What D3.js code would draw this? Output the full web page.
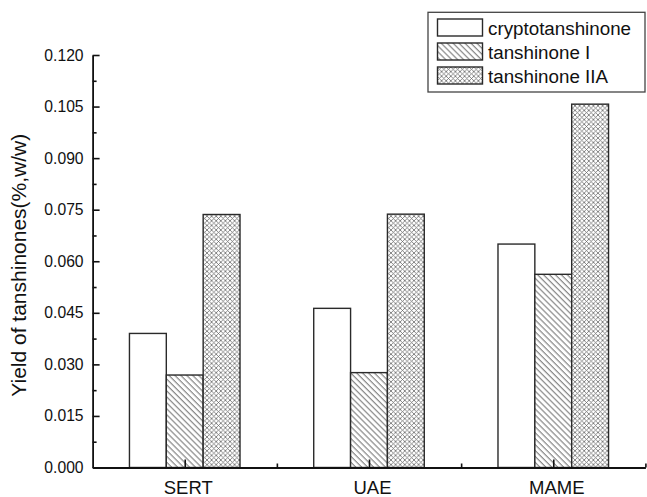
<!DOCTYPE html>
<html>
<head>
<meta charset="utf-8">
<script src="https://cdn.jsdelivr.net/npm/d3@7"></script>
<style>
  html, body { margin: 0; padding: 0; background: #fff; }
  svg { display: block; font-family: "Liberation Sans", Arial, Helvetica, sans-serif; }
</style>
</head>
<body>
<svg id="chart" width="647" height="497"></svg>
<script>
// ---- data ----
const categories = ["SERT", "UAE", "MAME"];
const seriesNames = ["cryptotanshinone", "tanshinone I", "tanshinone IIA"];
const cryptotanshinone = [0.0390, 0.0463, 0.0650];
const tanshinoneI = [0.0269, 0.0276, 0.0562];
const tanshinoneIIA = [0.0736, 0.0737, 0.1057];
const yTickValues = [0, 0.015, 0.030, 0.045, 0.060, 0.075, 0.090, 0.105, 0.120];
const yMinorTicks = [0.0075, 0.0225, 0.0375, 0.0525, 0.0675, 0.0825, 0.0975, 0.1125];
const yLabel = "Yield of tanshinones(%,w/w)";

const seriesValues = [cryptotanshinone, tanshinoneI, tanshinoneIIA];
const fills = ["#ffffff", "url(#hatch)", "url(#cross)"];

const svg = d3.select("#chart");

// ---- patterns ----
const defs = svg.append("defs");
const hatch = defs.append("pattern")
  .attr("id", "hatch").attr("patternUnits", "userSpaceOnUse")
  .attr("width", 4.2).attr("height", 4.2)
  .attr("patternTransform", "rotate(-45)");
hatch.append("rect").attr("width", 4.2).attr("height", 4.2).attr("fill", "#fff");
hatch.append("line").attr("x1", 1).attr("y1", 0).attr("x2", 1).attr("y2", 4.2)
  .attr("stroke", "#5e5e5e").attr("stroke-width", 0.9);

const cw = 4.6;
const cross = defs.append("pattern")
  .attr("id", "cross").attr("patternUnits", "userSpaceOnUse")
  .attr("width", cw).attr("height", cw);
cross.append("rect").attr("width", cw).attr("height", cw).attr("fill", "#fff");
cross.append("path")
  .attr("d", `M0,0L${cw},${cw}M${cw},0L0,${cw}M-1,${cw-1}L1,${cw+1}M${cw-1},-1L${cw+1},1`)
  .attr("stroke", "#6a6a6a").attr("stroke-width", 0.8).attr("fill", "none");

// ---- scales ----
const x = d3.scaleLinear().domain([0.5, 3.5]).range([92.6, 645.4]);
const y = d3.scaleLinear().domain([0, 0.12]).range([467.5, 55]);
const sub = d3.scaleBand().domain(seriesNames).range([-0.3, 0.3]);

// ---- bars ----
const barData = [];
categories.forEach((c, i) => {
  seriesNames.forEach((s, j) => {
    barData.push({ cat: i + 1, series: s, j: j, value: seriesValues[j][i] });
  });
});

svg.append("g").selectAll("rect").data(barData).join("rect")
  .attr("x", d => x(d.cat + sub(d.series)))
  .attr("width", d => x(d.cat + sub(d.series) + sub.bandwidth()) - x(d.cat + sub(d.series)))
  .attr("y", d => y(d.value))
  .attr("height", d => y(0) - y(d.value))
  .attr("fill", d => fills[d.j])
  .attr("stroke", "#2a2a2a")
  .attr("stroke-width", 1.4);

// ---- axes ----
const axisColor = "#111";
const yAxis = svg.append("g").attr("transform", `translate(${x(0.5)},0)`)
  .call(d3.axisLeft(y).tickValues(yTickValues).tickFormat(d3.format(".3f"))
    .tickSize(-7).tickSizeOuter(0).tickPadding(9));
svg.append("g").attr("transform", `translate(${x(0.5)},0)`)
  .call(d3.axisLeft(y).tickValues(yMinorTicks).tickFormat("").tickSize(-4).tickSizeOuter(0))
  .select(".domain").remove();

const xAxis = svg.append("g").attr("transform", `translate(0,${y(0)})`)
  .call(d3.axisBottom(x).tickValues([1, 2, 3]).tickFormat((d, i) => categories[i])
    .tickSize(-8).tickSizeOuter(0).tickPadding(13));
svg.append("g").attr("transform", `translate(0,${y(0)})`)
  .call(d3.axisBottom(x).tickValues([1.5, 2.5, 3.5]).tickFormat("").tickSize(-4).tickSizeOuter(0))
  .select(".domain").remove();

svg.selectAll(".domain").attr("stroke", axisColor).attr("stroke-width", 1.8);
svg.selectAll(".tick line").attr("stroke", axisColor).attr("stroke-width", 1.6);
yAxis.selectAll("text").attr("font-size", "15.7px").attr("fill", "#111")
  .attr("font-family", "Liberation Sans, Arial, sans-serif");
xAxis.selectAll("text").attr("font-size", "18.5px").attr("fill", "#111").attr("dx", "3")
  .attr("font-family", "Liberation Sans, Arial, sans-serif");

// ---- y label ----
svg.append("text")
  .attr("transform", `translate(26,${(y(0) + y(0.12)) / 2 + 4}) rotate(-90)`)
  .attr("text-anchor", "middle")
  .attr("font-size", "21px")
  .attr("fill", "#111")
  .text(yLabel);

// ---- legend ----
const legend = svg.append("g");
legend.append("rect")
  .attr("x", 428).attr("y", 12.3).attr("width", 217).attr("height", 79.7)
  .attr("fill", "#fff").attr("stroke", "#444").attr("stroke-width", 1.3);
const rows = legend.selectAll("g.row").data(seriesNames).join("g")
  .attr("class", "row")
  .attr("transform", (d, i) => `translate(0,${19 + i * 24})`);
rows.append("rect")
  .attr("x", 437.5).attr("y", 0).attr("width", 45).attr("height", 17)
  .attr("fill", (d, i) => fills[i])
  .attr("stroke", "#2a2a2a").attr("stroke-width", 1.4);
rows.append("text")
  .attr("x", 488).attr("y", 15.5)
  .attr("font-size", "18.8px").attr("fill", "#111")
  .text(d => d);
</script>
</body>
</html>
